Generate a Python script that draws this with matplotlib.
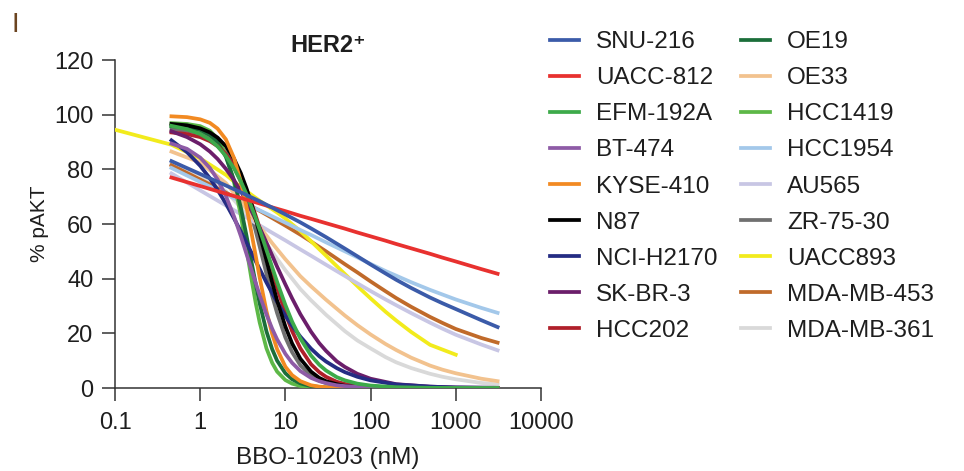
import matplotlib
matplotlib.use("Agg")
import matplotlib.pyplot as plt

plt.rcParams['font.family'] = ['Liberation Sans', 'DejaVu Sans']

conc_steep = [0.46, 0.7, 1, 1.3, 1.6, 2, 2.5, 3, 3.5, 4, 4.5, 5, 6, 7, 8, 10, 12, 15,
              20, 25, 30, 40, 50, 70, 100, 200, 500, 1000, 3100]
conc_shallow = [0.46, 1, 2, 3, 5, 7, 10, 15, 20, 30, 50, 70, 100, 150, 200, 300,
                500, 700, 1000, 2000, 3100]
conc_uacc893 = [0.1, 0.2, 0.46, 1, 2, 3, 5, 8, 10, 15, 20, 30, 50, 75, 100, 150,
                200, 300, 500, 1000]

# % pAKT per cell line
snu216 = [83, 78.3, 74.1, 71.6, 68.3, 66.0, 63.5, 60.6, 58.4, 55.2, 51.0, 48.2, 45.2,
          41.9, 39.6, 36.6, 33.1, 31.0, 28.9, 24.8, 22.3]
uacc812 = [77, 73.9, 71.1, 69.5, 67.5, 66.1, 64.7, 63.0, 61.9, 60.3, 58.3, 56.9, 55.5,
           53.9, 52.7, 51.1, 49.1, 47.7, 46.3, 43.5, 41.8]
efm192a = [95.9, 94.7, 92.9, 90.8, 88.4, 84.9, 80.3, 75.6, 70.9, 66.3, 62.0, 57.9, 50.5,
           44.2, 38.8, 30.4, 24.3, 18.1, 11.9, 8.5, 6.4, 4.0, 2.8, 1.6, 0.9, 0.3, 0.06, 0.02, 0]
bt474 = [89.4, 87.5, 84.3, 80.5, 76.3, 70.3, 62.7, 55.6, 49.0, 43.3, 38.3, 33.9, 26.9,
         21.7, 17.8, 12.5, 9.2, 6.2, 3.7, 2.5, 1.8, 1.0, 0.7, 0.4, 0.2, 0.05, 0, 0, 0]
kyse410 = [99.4, 99.1, 98.3, 97.0, 94.9, 91.0, 84.1, 75.5, 66.2, 56.8, 48.1, 40.3, 28.1,
           19.8, 14.2, 7.8, 4.7, 2.5, 1.0, 0.5, 0.3, 0.1, 0.07, 0, 0, 0, 0, 0, 0]
n87 = [96.6, 96.1, 95.0, 93.5, 91.6, 88.5, 83.8, 78.6, 73.0, 67.3, 61.7, 56.4, 46.7,
       38.6, 32.0, 22.5, 16.3, 10.7, 6.0, 3.7, 2.5, 1.4, 0.8, 0.4, 0.2, 0.04, 0, 0, 0]
nci_h2170 = [90.6, 86.3, 81.3, 76.7, 72.5, 67.5, 62.0, 57.3, 53.1, 49.5, 46.3, 43.5, 38.6,
             34.7, 31.5, 26.4, 22.8, 18.8, 14.4, 11.6, 9.7, 7.3, 5.8, 4.1, 2.8, 1.3, 0.5, 0.2, 0.07]
skbr3 = [93.9, 91.8, 89.2, 86.5, 83.8, 80.2, 76.0, 72.0, 68.3, 64.8, 61.5, 58.6, 53.2,
         48.5, 44.4, 37.9, 32.8, 27.0, 20.6, 16.4, 13.6, 9.8, 7.7, 5.2, 3.4, 1.4, 0.5, 0.2, 0.05]
hcc202 = [93.5, 92.9, 91.8, 90.3, 88.5, 85.6, 81.6, 77.1, 72.4, 67.6, 62.9, 58.4, 50.0,
          42.8, 36.7, 27.3, 20.8, 14.5, 8.7, 5.8, 4.1, 2.3, 1.5, 0.8, 0.4, 0.1, 0, 0, 0]
oe19 = [95.8, 95.4, 94.4, 92.6, 89.8, 84.6, 76.0, 66.0, 55.7, 46.2, 37.9, 30.9, 20.7,
        14.2, 10.0, 5.4, 3.2, 1.7, 0.7, 0.4, 0.2, 0.1, 0.05, 0, 0, 0, 0, 0, 0]
oe33 = [86.5, 82.5, 75.0, 68.3, 59.0, 53.0, 47.1, 40.9, 37.2, 32.3, 26.5, 23.0, 19.6,
        16.1, 13.9, 11.1, 8.2, 6.7, 5.4, 3.4, 2.5]
hcc1419 = [96.9, 96.6, 95.8, 94.1, 91.2, 85.4, 75.2, 63.1, 50.8, 39.9, 30.9, 23.9, 14.5,
           9.2, 6.0, 2.9, 1.6, 0.75, 0.28, 0.13, 0.07, 0.03, 0.01, 0, 0, 0, 0, 0, 0]
hcc1954 = [80.5, 75.4, 70.9, 68.3, 65.0, 62.8, 60.5, 57.8, 56.0, 53.3, 50.0, 47.8, 45.4,
           42.8, 41.1, 38.7, 35.9, 34.2, 32.4, 29.3, 27.5]
au565 = [78.5, 72.3, 66.8, 63.6, 59.5, 56.8, 54.0, 50.7, 48.4, 45.1, 41.0, 38.3, 35.5,
         32.4, 30.3, 27.4, 23.9, 21.7, 19.5, 15.9, 13.8]
zr7530 = [94.7, 94.1, 93.1, 91.5, 89.5, 86.2, 81.2, 75.5, 69.4, 63.3, 57.3, 51.7, 41.8,
          33.7, 27.4, 18.5, 13.1, 8.3, 4.5, 2.7, 1.8, 0.9, 0.6, 0.3, 0.1, 0, 0, 0, 0]
uacc893 = [94.5, 92.0, 89.0, 84.0, 78.0, 73.5, 68.5, 64.2, 62.0, 57.4, 53.7, 48.4, 41.7,
           36.4, 32.8, 27.9, 24.7, 20.5, 15.8, 12.2]
mdamb453 = [81.5, 76.3, 71.5, 68.6, 64.8, 62.2, 59.4, 56.1, 53.6, 50.0, 45.3, 42.3, 39.0,
            35.4, 32.9, 29.7, 26.0, 23.8, 21.6, 18.3, 16.6]
mdamb361 = [82, 78.0, 72.0, 66.0, 56.5, 49.8, 43.1, 36.2, 32.1, 26.8, 20.8, 17.4, 14.5,
            11.3, 9.4, 7.3, 5.2, 4.1, 3.2, 1.85, 1.3]

names = ["SNU-216", "UACC-812", "EFM-192A", "BT-474", "KYSE-410", "N87", "NCI-H2170",
         "SK-BR-3", "HCC202", "OE19", "OE33", "HCC1419", "HCC1954", "AU565",
         "ZR-75-30", "UACC893", "MDA-MB-453", "MDA-MB-361"]
series = [snu216, uacc812, efm192a, bt474, kyse410, n87, nci_h2170, skbr3, hcc202,
          oe19, oe33, hcc1419, hcc1954, au565, zr7530, uacc893, mdamb453, mdamb361]
colors = ["#3B5BA9", "#E8312F", "#3DAA4A", "#8E5BA6", "#F28A22", "#000000", "#242C83",
          "#6B1E6A", "#B0202A", "#1B6E3A", "#F2C28E", "#5DB847", "#A3C8EA", "#C8C6E4",
          "#707070", "#F2EB1C", "#C06A2A", "#D9D9D9"]

txt = "#1e1e1e"
fig = plt.figure(figsize=(9.64, 4.71), dpi=100)
ax = fig.add_axes([0.1193, 0.1762, 0.4418, 0.6964])

lines = []
for i, (name, ys, c) in enumerate(zip(names, series, colors)):
    if name == "UACC893":
        xs = conc_uacc893
    elif len(ys) == len(conc_steep):
        xs = conc_steep
    else:
        xs = conc_shallow
    ln, = ax.plot(xs, ys, color=c, lw=2.7, label=name, zorder=3 + (len(names) - i) * 0.01)
    lines.append(ln)

ax.set_xscale('log')
ax.set_xlim(0.1, 10000)
ax.set_ylim(0, 120)
ax.set_xticks([0.1, 1, 10, 100, 1000, 10000])
ax.set_xticklabels(["0.1", "1", "10", "100", "1000", "10000"])
ax.xaxis.set_minor_locator(matplotlib.ticker.NullLocator())
ax.set_yticks(range(0, 121, 20))
for s in ['top', 'right']:
    ax.spines[s].set_visible(False)
for s in ['left', 'bottom']:
    ax.spines[s].set_linewidth(1.1)
    ax.spines[s].set_color("#333333")
ax.tick_params(axis='both', length=9.5, width=1.1, color="#333333",
               labelsize=17, labelcolor=txt)
ax.tick_params(axis='x', pad=8)
ax.tick_params(axis='y', pad=6)

ax.set_xlabel("BBO-10203 (nM)", fontsize=17.5, color=txt, labelpad=9)
ax.set_ylabel("% pAKT", fontsize=15, color=txt, labelpad=4)
ax.set_title("HER2⁺", fontsize=17, fontweight='bold', color=txt, pad=6)

fig.legend(handles=lines, loc='upper left', bbox_to_anchor=(0.5705, 0.934),
           ncol=2, frameon=False, fontsize=17.5, handlelength=1.2,
           handletextpad=0.7, columnspacing=0.95, labelspacing=0.58,
           borderpad=0, borderaxespad=0, labelcolor=txt)

fig.text(0.012, 0.975, "I", fontsize=20, color="#6b4420", va='top')

fig.savefig("out.png", dpi=100)
